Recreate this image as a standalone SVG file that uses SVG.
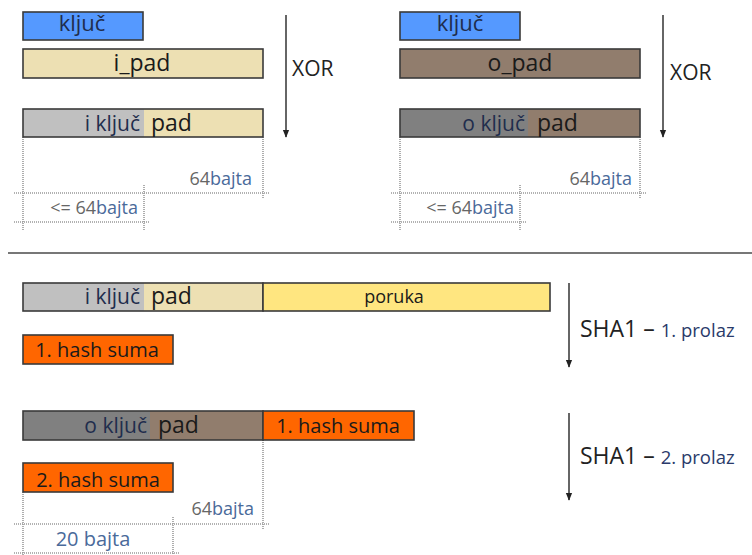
<svg xmlns="http://www.w3.org/2000/svg" width="752" height="555" viewBox="0 0 752 555">
<defs>
<marker id="ah" viewBox="0 0 10 10" refX="9" refY="5" markerWidth="8" markerHeight="8" markerUnits="userSpaceOnUse" orient="auto"><path d="M0,1 L10,5 L0,9 Z" fill="#222"/></marker>
<style>
text{font-family:"Open Sans","DejaVu Sans",sans-serif;}
.box{stroke:#3a3a3a;stroke-width:1.6;}
.blue{fill:#5599ff;}
.tan{fill:#ede0b3;}
.lg{fill:#c0c0c0;}
.brown{fill:#917d6d;}
.dg{fill:#808080;}
.yel{fill:#ffe680;}
.org{fill:#ff6600;}
.nofill{fill:none;}
.t{fill:#1a1a1a;}
.key{fill:#1f2d4d;}
.dot{stroke:#999;stroke-width:1.6;stroke-dasharray:1 1;fill:none;}
.arr{stroke:#333;stroke-width:1.5;fill:none;marker-end:url(#ah);}
.lbl{font-size:18px;}
.num{fill:#666;}
.bj{fill:#4a6a9a;}
.sha{font-size:23px;fill:#222;}
.pr{font-size:18.5px;fill:#2a3a6a;}
.kl{font-size:21px;}
.pd{font-size:23px;}
.hs{font-size:20px;}
</style>
</defs>

<g id="connectors">
<line class="arr" x1="286" y1="15" x2="286" y2="137"/>
<line class="arr" x1="663" y1="15" x2="663" y2="137"/>
<line class="arr" x1="569" y1="283" x2="569" y2="367"/>
<line class="arr" x1="569" y1="413" x2="569" y2="500"/>
<line x1="8" y1="253" x2="752" y2="253" stroke="#777" stroke-width="2"/>
</g>

<g id="dimensions">
<line class="dot" x1="23" y1="137" x2="23" y2="230"/>
<line class="dot" x1="263" y1="137" x2="263" y2="198"/>
<line class="dot" x1="14" y1="193" x2="270" y2="193"/>
<line class="dot" x1="14" y1="222" x2="150" y2="222"/>
<line class="dot" x1="144" y1="185" x2="144" y2="230"/>
<line class="dot" x1="400" y1="137" x2="400" y2="230"/>
<line class="dot" x1="640" y1="137" x2="640" y2="198"/>
<line class="dot" x1="391" y1="193" x2="647" y2="193"/>
<line class="dot" x1="391" y1="222" x2="527" y2="222"/>
<line class="dot" x1="520" y1="185" x2="520" y2="230"/>
<line class="dot" x1="263" y1="440" x2="263" y2="530"/>
<line class="dot" x1="23" y1="492" x2="23" y2="555"/>
<line class="dot" x1="14" y1="524" x2="270" y2="524"/>
<line class="dot" x1="173" y1="517" x2="173" y2="555"/>
<line class="dot" x1="14" y1="553" x2="180" y2="553"/>
<text class="lbl" x="252" y="185" text-anchor="end"><tspan class="num">64</tspan><tspan class="bj">bajta</tspan></text>
<text class="lbl" x="138" y="214" text-anchor="end"><tspan class="num">&lt;= 64</tspan><tspan class="bj">bajta</tspan></text>
<text class="lbl" x="632" y="185" text-anchor="end"><tspan class="num">64</tspan><tspan class="bj">bajta</tspan></text>
<text class="lbl" x="514" y="214" text-anchor="end"><tspan class="num">&lt;= 64</tspan><tspan class="bj">bajta</tspan></text>
<text class="lbl" x="254" y="515" text-anchor="end"><tspan class="num">64</tspan><tspan class="bj">bajta</tspan></text>
<text x="93" y="546" text-anchor="middle" font-size="20" class="bj">20 bajta</text>
</g>

<g id="labels">
<text x="292" y="76" font-size="21" fill="#222">XOR</text>
<text x="670" y="80" font-size="21" fill="#222">XOR</text>
<text class="sha" x="580" y="337">SHA1 – <tspan class="pr">1. prolaz</tspan></text>
<text class="sha" x="580" y="464">SHA1 – <tspan class="pr">2. prolaz</tspan></text>
</g>

<g id="kljuc-left">
<rect class="box blue" x="23" y="12" width="120" height="28"/>
<text class="key" x="82" y="31" font-size="22" text-anchor="middle">ključ</text>
</g>
<g id="ipad">
<rect class="box tan" x="23" y="49" width="240" height="29"/>
<text class="t" x="142" y="71" font-size="23" text-anchor="middle">i_pad</text>
</g>
<g id="ikljuc-pad-top">
<rect class="tan" x="23" y="109" width="240" height="28"/>
<rect class="lg" x="23" y="109" width="121" height="28"/>
<rect class="box nofill" x="23" y="109" width="240" height="28"/>
<text class="key kl" x="140" y="131" text-anchor="end">i ključ</text>
<text class="t pd" x="151" y="131">pad</text>
</g>

<g id="kljuc-right">
<rect class="box blue" x="400" y="12" width="120" height="28"/>
<text class="key" x="460" y="31" font-size="22" text-anchor="middle">ključ</text>
</g>
<g id="opad">
<rect class="box brown" x="400" y="49" width="240" height="29"/>
<text class="t" x="520" y="71" font-size="23" text-anchor="middle">o_pad</text>
</g>
<g id="okljuc-pad-top">
<rect class="brown" x="400" y="109" width="240" height="28"/>
<rect class="dg" x="400" y="109" width="128" height="28"/>
<rect class="box nofill" x="400" y="109" width="240" height="28"/>
<text class="key kl" x="525" y="131" text-anchor="end">o ključ</text>
<text class="t pd" x="537" y="131">pad</text>
</g>

<g id="ikljuc-pad-mid">
<rect class="tan" x="23" y="283" width="240" height="28"/>
<rect class="lg" x="23" y="283" width="121" height="28"/>
<rect class="box nofill" x="23" y="283" width="240" height="28"/>
<text class="key kl" x="140" y="304" text-anchor="end">i ključ</text>
<text class="t pd" x="151" y="304">pad</text>
</g>
<g id="poruka">
<rect class="box yel" x="263" y="283" width="287" height="28"/>
<text class="t" x="394" y="303" font-size="18" text-anchor="middle">poruka</text>
</g>
<g id="hash1-mid">
<rect class="box org" x="23" y="335" width="150" height="29"/>
<text class="t hs" x="97" y="357" text-anchor="middle">1. hash suma</text>
</g>

<g id="okljuc-pad-bot">
<rect class="brown" x="23" y="411" width="240" height="29"/>
<rect class="dg" x="23" y="411" width="127" height="29"/>
<rect class="box nofill" x="23" y="411" width="240" height="29"/>
<text class="key kl" x="147" y="433" text-anchor="end">o ključ</text>
<text class="t pd" x="158" y="433">pad</text>
</g>
<g id="hash1-bot">
<rect class="box org" x="263" y="411" width="151" height="29"/>
<text class="t hs" x="338" y="433" text-anchor="middle">1. hash suma</text>
</g>
<g id="hash2">
<rect class="box org" x="23" y="463" width="150" height="29"/>
<text class="t hs" x="98" y="487" text-anchor="middle">2. hash suma</text>
</g>
</svg>
